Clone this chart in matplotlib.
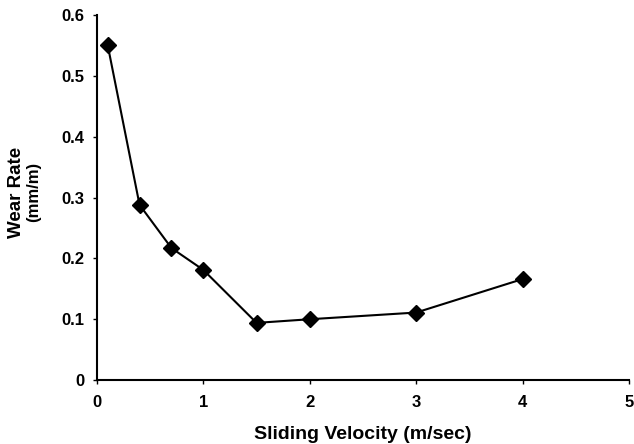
import numpy as np
import matplotlib.pyplot as plt

# sliding velocity vs wear rate
velocity = [0.1, 0.4, 0.7, 1.0, 1.5, 2.0, 3.0, 4.0]
wear_rate = [0.551, 0.288, 0.217, 0.181, 0.094, 0.100, 0.111, 0.166]

x_ticks = [0, 1, 2, 3, 4, 5]
y_ticks = [0, 0.1, 0.2, 0.3, 0.4, 0.5, 0.6]
y_ticklabels = ['0', '0.1', '0.2', '0.3', '0.4', '0.5', '0.6']

plt.rcParams['font.family'] = ['Liberation Sans', 'DejaVu Sans']
plt.rcParams['font.weight'] = 'bold'

fig = plt.figure(figsize=(6.34, 4.44), dpi=100)
ax = fig.add_axes([0.153, 0.144, 0.839, 0.822])

ax.plot(velocity, wear_rate, color='black', lw=1.5, marker='D', markersize=8.5)

ax.set_xlim(0, 5)
ax.set_ylim(0, 0.6)
ax.set_xticks(x_ticks)
ax.set_yticks(y_ticks)
ax.set_yticklabels(y_ticklabels)
ax.tick_params(labelsize=12, length=3, width=1)
ax.tick_params(axis='x', pad=8)
ax.tick_params(axis='y', pad=6)
for lab in ax.get_xticklabels() + ax.get_yticklabels():
    lab.set_fontweight('bold')

ax.spines['top'].set_visible(False)
ax.spines['right'].set_visible(False)
ax.spines['left'].set_linewidth(1.5)
ax.spines['bottom'].set_linewidth(1.5)

ax.set_xlabel('Sliding Velocity (m/sec)', fontsize=14, fontweight='bold', labelpad=11)

fig.text(17 / 634, 1 - 192 / 444, 'Wear Rate', rotation=90, fontsize=13.5,
         fontweight='bold', ha='center', va='center')
fig.text(34 / 634, 1 - 192 / 444, '(mm/m)', rotation=90, fontsize=12,
         fontweight='bold', ha='center', va='center')

fig.savefig('out.png', dpi=100)
